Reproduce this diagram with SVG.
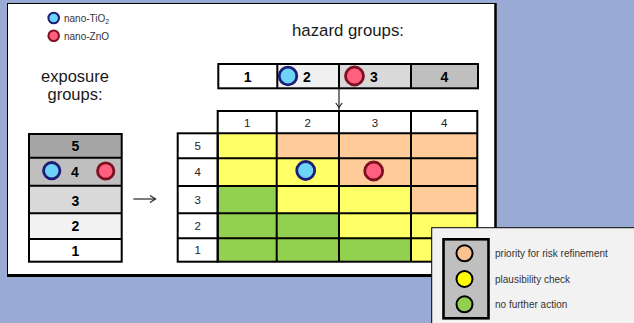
<svg xmlns="http://www.w3.org/2000/svg" width="634" height="323" viewBox="0 0 634 323">
<defs>
<style>
text{font-family:"Liberation Sans",Arial,sans-serif;fill:#1a1a1a}
.t{font-size:16.5px}
.b{font-size:14px;font-weight:bold;fill:#000}
.n{font-size:11.5px;fill:#222}
.s{font-size:10px;fill:#333}
.g{stroke:#000;stroke-width:2}
.cb{fill:#6DD3F7;stroke:#1E1E78}
.cr{fill:#FF6080;stroke:#7F1020}
.y{fill:#FFFF66}
.p{fill:#FFCC99}
.gr{fill:#92D050}
.con{stroke:#262626;stroke-width:1.2;fill:none}
</style>
</defs>
<rect x="0" y="0" width="634" height="323" fill="#99ABD5"/>
<g id="panel">
<rect x="7.5" y="3.5" width="488" height="271" fill="#fff" stroke="#000" stroke-width="1"/>
<line x1="495.5" y1="3" x2="495.5" y2="277" stroke="#000" stroke-width="2.5"/>
<line x1="7" y1="275.6" x2="497" y2="275.6" stroke="#000" stroke-width="2.6"/>
</g>
<g id="legend-substances">
<circle cx="53.7" cy="18" r="5.3" class="cb" stroke-width="2"/>
<text x="64" y="22" class="s">nano-TiO<tspan font-size="7" dy="2">2</tspan></text>
<circle cx="53.7" cy="35.7" r="5.3" class="cr" stroke-width="2"/>
<text x="64" y="40" class="s">nano-ZnO</text>
</g>
<g id="hazard-label"><text x="292" y="36" class="t" style="font-size:16.8px">hazard groups:</text></g>
<g id="exposure-label">
<text x="75" y="82" class="t" text-anchor="middle">exposure</text>
<text x="75" y="100" class="t" text-anchor="middle">groups:</text>
</g>
<g id="hazard-groups">
<rect x="218.3" y="64" width="59" height="24.3" fill="#fff"/>
<rect x="277.3" y="64" width="61.7" height="24.3" fill="#F0F0F0"/>
<rect x="339" y="64" width="72" height="24.3" fill="#D9D9D9"/>
<rect x="411" y="64" width="67" height="24.3" fill="#BFBFBF"/>
<rect x="218.3" y="64" width="259.7" height="24.3" fill="none" class="g"/>
<line x1="277.3" y1="64" x2="277.3" y2="88.3" class="g"/>
<line x1="339" y1="64" x2="339" y2="88.3" class="g"/>
<line x1="411" y1="64" x2="411" y2="88.3" class="g"/>
<text x="247.7" y="81.5" class="b" text-anchor="middle">1</text>
<circle cx="288" cy="76" r="8.8" class="cb" stroke-width="2.8"/>
<text x="303" y="81.5" class="b">2</text>
<circle cx="354.5" cy="76" r="9" class="cr" stroke-width="2.8"/>
<text x="370" y="81.5" class="b">3</text>
<text x="444.5" y="81.5" class="b" text-anchor="middle">4</text>
</g>
<g id="exposure-groups">
<rect x="29" y="134" width="92.7" height="23.7" fill="#A6A6A6"/>
<rect x="29" y="157.7" width="92.7" height="28" fill="#BFBFBF"/>
<rect x="29" y="185.7" width="92.7" height="27.6" fill="#D9D9D9"/>
<rect x="29" y="213.3" width="92.7" height="25.7" fill="#F2F2F2"/>
<rect x="29" y="239" width="92.7" height="22.7" fill="#fff"/>
<rect x="29" y="134" width="92.7" height="127.7" fill="none" class="g"/>
<line x1="29" y1="157.7" x2="121.7" y2="157.7" class="g"/>
<line x1="29" y1="185.7" x2="121.7" y2="185.7" class="g"/>
<line x1="29" y1="213.3" x2="121.7" y2="213.3" class="g"/>
<line x1="29" y1="239" x2="121.7" y2="239" class="g"/>
<text x="75.3" y="151" class="b" text-anchor="middle">5</text>
<circle cx="51.7" cy="170.7" r="8.2" class="cb" stroke-width="2.8"/>
<text x="75" y="176.7" class="b" text-anchor="middle">4</text>
<circle cx="105.7" cy="171" r="8.2" class="cr" stroke-width="2.8"/>
<text x="75.3" y="205.5" class="b" text-anchor="middle">3</text>
<text x="75.3" y="231.2" class="b" text-anchor="middle">2</text>
<text x="75.3" y="255.5" class="b" text-anchor="middle">1</text>
</g>
<g id="matrix">
<rect x="217.7" y="111" width="259.6" height="22.3" fill="#fff"/>
<rect x="177.7" y="133.3" width="40" height="128.4" fill="#fff"/>
<rect x="217.7" y="133.3" width="59" height="25" class="y"/>
<rect x="276.7" y="133.3" width="200.6" height="25" class="p"/>
<rect x="217.7" y="158.3" width="121.3" height="27.7" class="y"/>
<rect x="339" y="158.3" width="138.3" height="27.7" class="p"/>
<rect x="217.7" y="186" width="59" height="27.3" class="gr"/>
<rect x="276.7" y="186" width="134.3" height="27.3" class="y"/>
<rect x="411" y="186" width="66.3" height="27.3" class="p"/>
<rect x="217.7" y="213.3" width="121.3" height="25" class="gr"/>
<rect x="339" y="213.3" width="138.3" height="25" class="y"/>
<rect x="217.7" y="238.3" width="193.3" height="23.4" class="gr"/>
<rect x="411" y="238.3" width="66.3" height="23.4" class="y"/>
<rect x="217.7" y="111" width="259.6" height="150.7" fill="none" class="g"/>
<rect x="177.7" y="133.3" width="40" height="128.4" fill="none" class="g"/>
<line x1="276.7" y1="111" x2="276.7" y2="261.7" class="g"/>
<line x1="339" y1="111" x2="339" y2="261.7" class="g"/>
<line x1="411" y1="111" x2="411" y2="261.7" class="g"/>
<line x1="217.7" y1="133.3" x2="477.3" y2="133.3" class="g"/>
<line x1="177.7" y1="158.3" x2="477.3" y2="158.3" class="g"/>
<line x1="177.7" y1="186" x2="477.3" y2="186" class="g"/>
<line x1="177.7" y1="213.3" x2="477.3" y2="213.3" class="g"/>
<line x1="177.7" y1="238.3" x2="477.3" y2="238.3" class="g"/>
<text x="247.2" y="126.5" class="n" text-anchor="middle">1</text>
<text x="307.8" y="126.5" class="n" text-anchor="middle">2</text>
<text x="375" y="126.5" class="n" text-anchor="middle">3</text>
<text x="444.2" y="126.5" class="n" text-anchor="middle">4</text>
<text x="197.7" y="149.5" class="n" text-anchor="middle">5</text>
<text x="197.7" y="176.3" class="n" text-anchor="middle">4</text>
<text x="197.7" y="203.8" class="n" text-anchor="middle">3</text>
<text x="197.7" y="229.8" class="n" text-anchor="middle">2</text>
<text x="197.7" y="254.2" class="n" text-anchor="middle">1</text>
<circle cx="305.7" cy="170.5" r="9" class="cb" stroke-width="2.8"/>
<circle cx="373.7" cy="171" r="9" class="cr" stroke-width="2.8"/>
</g>
<g id="connectors">
<path class="con" d="M133.3,199 H155.3"/>
<path class="con" d="M150,195.6 L155.5,199 L150,202.4"/>
<path class="con" d="M339,88.3 V110"/>
<path class="con" d="M335.8,103 L339,107.5 L342.2,103"/>
</g>
<g id="legend-actions">
<rect x="431.7" y="227.7" width="210" height="100" fill="#F2F2F2" stroke="#000" stroke-width="1"/>
<rect x="443.5" y="239.3" width="45" height="79" fill="#BFBFBF" stroke="#000" stroke-width="2.6"/>
<circle cx="464.5" cy="253.3" r="8" fill="#FAC090" stroke="#000" stroke-width="2"/>
<circle cx="464.5" cy="279" r="8" fill="#FFFF00" stroke="#000" stroke-width="2"/>
<circle cx="464.5" cy="304.3" r="8" fill="#92D050" stroke="#000" stroke-width="2"/>
<text x="495" y="257.3" class="s">priority for risk refinement</text>
<text x="495" y="282.7" class="s">plausibility check</text>
<text x="495" y="308" class="s">no further action</text>
</g>
</svg>
